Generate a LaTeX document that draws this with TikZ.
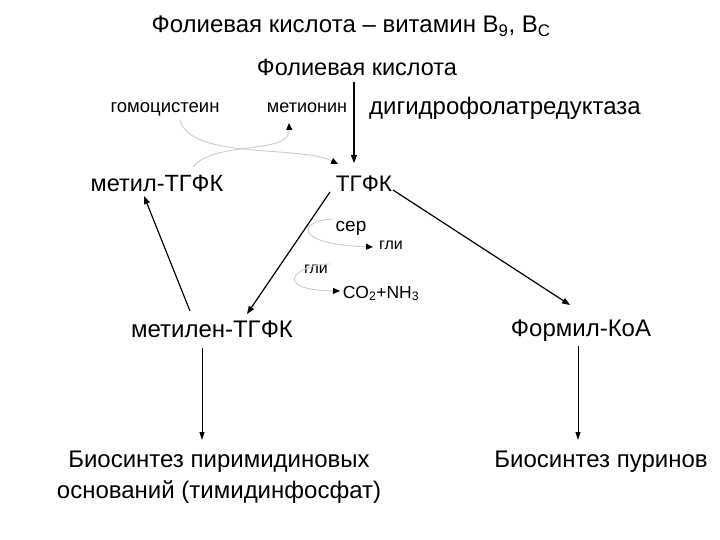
\documentclass[tikz,border=0pt]{standalone}
\usepackage{fontspec}
\setmainfont{Liberation Sans}
\usetikzlibrary{arrows.meta}
\tikzset{
  lbl/.style={inner sep=0pt, anchor=base},
  arr/.style={draw=black, line width=1.2pt, -{Triangle[length=8pt,width=6pt]}},
  thin arr/.style={draw=black, line width=0.9pt, -{Triangle[length=8pt,width=5pt]}},
  grayarr/.style={draw=gray!40, line width=0.9pt, -{Triangle[length=7pt,width=6pt,color=black]}},
}
\begin{document}
\begin{tikzpicture}[x=1pt,y=-1pt]
\useasboundingbox (0,0) rectangle (720,540);
% texts
\node[lbl, font=\fontsize{24}{26}\selectfont] (title) at (351,33) {Фолиевая кислота – витамин B\textsubscript{9}, B\textsubscript{C}};
\node[lbl, font=\fontsize{23.5}{26}\selectfont] (fk) at (357,76) {Фолиевая кислота};
\node[lbl, font=\fontsize{18.5}{20}\selectfont] (homo) at (165,113) {гомоцистеин};
\node[lbl, font=\fontsize{18}{20}\selectfont] (met) at (307,113) {метионин};
\node[lbl, font=\fontsize{24}{26}\selectfont] (dhfr) at (505,115) {дигидрофолатредуктаза};
\node[lbl, font=\fontsize{23.5}{26}\selectfont] (mthf) at (157,192) {метил-ТГФК};
\node[lbl, font=\fontsize{22.5}{26}\selectfont] (thf) at (364,192) {ТГФК};
\node[lbl, font=\fontsize{19}{22}\selectfont] (ser) at (351,231) {сер};
\node[lbl, font=\fontsize{16}{18}\selectfont] (gly1) at (391,249) {гли};
\node[lbl, font=\fontsize{16}{18}\selectfont] (gly2) at (316,273) {гли};
\node[lbl, font=\fontsize{17.5}{20}\selectfont] (co2) at (381,298) {CO\textsubscript{2}+NH\textsubscript{3}};
\node[lbl, font=\fontsize{24}{26}\selectfont] (mlthf) at (212,337) {метилен-ТГФК};
\node[lbl, font=\fontsize{24}{26}\selectfont] (form) at (581,336) {Формил-КоА};
\node[lbl, font=\fontsize{24}{26}\selectfont] (pyr1) at (219,467) {Биосинтез пиримидиновых};
\node[lbl, font=\fontsize{24}{26}\selectfont] (pyr2) at (219,498) {оснований (тимидинфосфат)};
\node[lbl, font=\fontsize{24}{26}\selectfont] (pur) at (601,467) {Биосинтез пуринов};
% coordinates
\coordinate (fkb) at (354,82);
\coordinate (thft) at (354,163);
% main arrows
\draw[arr] (fkb) -- (thft);
\draw[arr] (330,192) -- (247,314);
\draw[arr] (393,190) -- (570,305);
\draw[arr] (190,311) -- (144,196);
\draw[thin arr] (202,348) -- (202,440);
\draw[thin arr] (578,346) -- (578,440);
% gray curved arrows
\draw[grayarr] (180,120) .. controls (190,160) and (300,145) .. (338,164);
\draw[grayarr] (193,167) .. controls (215,140) and (290,155) .. (289,123);
\draw[grayarr] (333,219) .. controls (300,220) and (290,244) .. (373,247);
\draw[grayarr] (330,264) .. controls (295,264) and (270,290) .. (340,291);
\end{tikzpicture}
\end{document}
